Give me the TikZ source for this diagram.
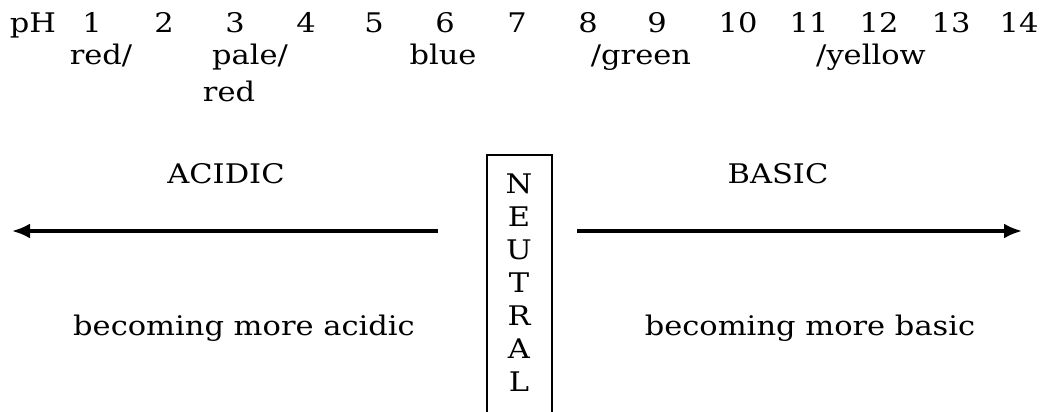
\documentclass[tikz,border=0pt]{standalone}
\usepackage{fontspec}
\setmainfont[FakeStretch=1.13]{DejaVu Serif}
\usetikzlibrary{arrows.meta}
\tikzset{
  x=1pt,y=-1pt,
  lbl/.style={anchor=base,inner sep=0pt,font=\fontsize{27}{27}\selectfont},
  arr/.style={line width=3.2pt,-{Latex[length=18pt,width=15pt]}},
  nbox/.style={draw,line width=1.2pt}
}
\begin{document}
\begin{tikzpicture}
\useasboundingbox (0,0) rectangle (1044,412);
\clip (0,0) rectangle (1044,412);
% pH scale
\node[lbl] (ph) at (33,33) {pH};
\node[lbl] (n1) at (92,33) {1};
\node[lbl] (n2) at (164,33) {2};
\node[lbl] (n3) at (235,33) {3};
\node[lbl] (n4) at (306,33) {4};
\node[lbl] (n5) at (374,33) {5};
\node[lbl] (n6) at (445,33) {6};
\node[lbl] (n7) at (517,33) {7};
\node[lbl] (n8) at (588,33) {8};
\node[lbl] (n9) at (657,33) {9};
\node[lbl] (n10) at (738,33) {10};
\node[lbl] (n11) at (809,33) {11};
\node[lbl] (n12) at (879,33) {12};
\node[lbl] (n13) at (951,33) {13};
\node[lbl] (n14) at (1019,33) {14};
% colours
\node[lbl] (c1) at (101,65) {red/};
\node[lbl] (c2) at (250,65) {pale/};
\node[lbl] (c2b) at (229,101) {red};
\node[lbl] (c3) at (443,65) {blue};
\node[lbl] (c4) at (641,65) {/green};
\node[lbl] (c5) at (871,65) {/yellow};
% headings
\node[lbl] (acidic) at (226,183) {ACIDIC};
\node[lbl] (basic) at (778,183) {BASIC};
% neutral box
\draw[nbox] (487,430) -- (487,155) -- (552,155) -- (552,430);
\node[lbl] (nN) at (519,193) {N};
\node[lbl] (nE) at (519,226) {E};
\node[lbl] (nU) at (519,259) {U};
\node[lbl] (nT) at (519,292) {T};
\node[lbl] (nR) at (519,325) {R};
\node[lbl] (nA) at (519,358) {A};
\node[lbl] (nL) at (519,391) {L};
% arrows
\coordinate (la) at (438,231);
\coordinate (lt) at (12,231);
\coordinate (ra) at (577,231);
\coordinate (rt) at (1022,231);
\draw[arr] (la) -- (lt);
\draw[arr] (ra) -- (rt);
% bottom texts
\node[lbl] (ma) at (244,335) {becoming more acidic};
\node[lbl] (mb) at (810,335) {becoming more basic};
\end{tikzpicture}
\end{document}
